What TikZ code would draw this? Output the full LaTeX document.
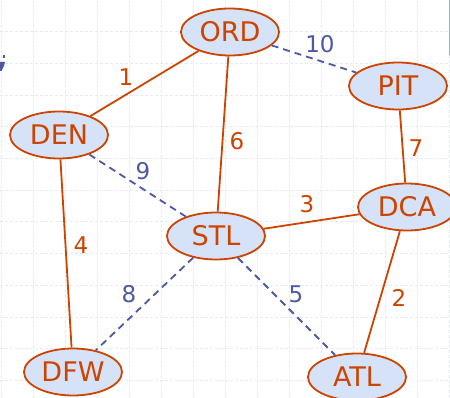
\documentclass[tikz,border=0pt]{standalone}
\usepackage{fontspec}
\setmainfont{DejaVu Sans}
\usetikzlibrary{shapes.geometric}
\definecolor{edgeor}{RGB}{204,68,0}
\definecolor{edgebl}{RGB}{78,88,164}
\definecolor{nodefill}{RGB}{214,226,248}
\definecolor{gridc}{RGB}{228,234,250}
\definecolor{barc}{RGB}{150,175,240}
\tikzset{
  city/.style={ellipse, draw=edgeor, fill=nodefill, line width=1.8pt,
    minimum width=98pt, minimum height=47pt, inner sep=0pt,
    text=edgeor, font=\fontsize{27}{27}\selectfont},
  solidedge/.style={draw=edgeor, line width=1.8pt},
  dashedge/.style={draw=edgebl, line width=1.8pt, dash pattern=on 7pt off 5pt},
  orlab/.style={text=edgeor, font=\fontsize{23}{23}\selectfont, inner sep=0pt},
  bllab/.style={text=edgebl, font=\fontsize{23}{23}\selectfont, inner sep=0pt},
  gridline/.style={draw=gridc, line width=0.8pt, dash pattern=on 3pt off 2pt}
}
\begin{document}
\begin{tikzpicture}[x=1pt,y=-1pt]
\useasboundingbox (0,0) rectangle (450,398);
\fill[white] (0,0) rectangle (450,398);
% faint grid
\foreach \k in {0,...,14} { \draw[gridline] ({1+32*\k},0) -- ({1+32*\k},398); }
\foreach \k in {1,...,12} { \draw[gridline] (0,{31.7*\k}) -- (450,{31.7*\k}); }
% slide remnants
\fill[barc] (448.5,0) rectangle (450,55);
\fill[edgebl] (0,62) -- (5,62) -- (4,66) -- (1.5,71) -- (0,71) -- cycle;
\fill[edgebl] (3,55) -- (5,55) -- (5,58) -- (3,58) -- cycle;
% nodes
\node[city] (ORD) at (230,32) {ORD};
\node[city] (PIT) at (398,86) {PIT};
\node[city] (DEN) at (59,135) {DEN};
\node[city] (DCA) at (407,207) {DCA};
\node[city] (STL) at (216,236) {STL};
\node[city] (DFW) at (73,372) {DFW};
\node[city] (ATL) at (357,377) {ATL};
% edges
\path[solidedge] (ORD) -- (DEN);
\path[dashedge] (ORD) -- (PIT);
\path[solidedge] (ORD) -- (STL);
\path[solidedge] (PIT) -- (DCA);
\path[dashedge] (DEN) -- (STL);
\path[solidedge] (DEN) -- (DFW);
\path[solidedge] (STL) -- (DCA);
\path[dashedge] (STL) -- (DFW);
\path[dashedge] (STL) -- (ATL);
\path[solidedge] (DCA) -- (ATL);
% labels
\node[orlab] (l1) at (126,77) {1};
\node[bllab] (l10) at (320,44) {10};
\node[orlab] (l6) at (237,141) {6};
\node[orlab] (l7) at (416,148) {7};
\node[bllab] (l9) at (143,171) {9};
\node[orlab] (l3) at (307,204) {3};
\node[orlab] (l4) at (81,245) {4};
\node[bllab] (l8) at (129,294) {8};
\node[bllab] (l5) at (296,294) {5};
\node[orlab] (l2) at (399,298) {2};
\end{tikzpicture}
\end{document}
